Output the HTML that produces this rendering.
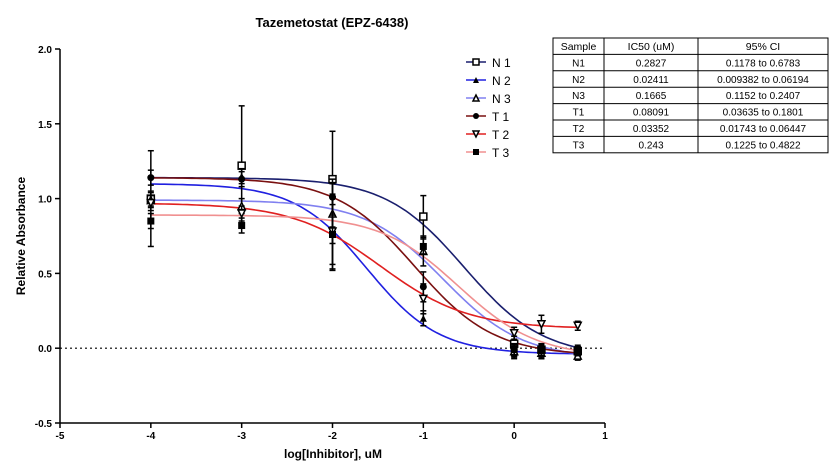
<!DOCTYPE html>
<html><head><meta charset="utf-8"><style>
body{margin:0;background:#fff;font-family:"Liberation Sans",Arial,sans-serif}
</style></head><body>
<svg id="chart" width="836" height="469" xmlns="http://www.w3.org/2000/svg" font-family="Liberation Sans, Arial, sans-serif">
<text x="332" y="27" text-anchor="middle" font-size="13" font-weight="bold">Tazemetostat (EPZ-6438)</text>
<text transform="translate(25,236) rotate(-90)" text-anchor="middle" font-size="12" font-weight="bold">Relative Absorbance</text>
<text x="333" y="458" text-anchor="middle" font-size="12" font-weight="bold">log[Inhibitor], uM</text>
<g id="axes"></g><g id="curves"></g><g id="points"></g><g id="legend"></g><g id="table"></g>
</svg>
<script>
const xTicks=[-5,-4,-3,-2,-1,0,1];
const yTicks=[-0.5,0.0,0.5,1.0,1.5,2.0];
const yTickLabels=["-0.5","0.0","0.5","1.0","1.5","2.0"];
const seriesNames=["N 1","N 2","N 3","T 1","T 2","T 3"];
const seriesColors=["#1a1f6e","#2020e0","#8080f0","#7a1010","#e02020","#f09090"];
const doses=[-4,-3,-2,-1,0,0.3,0.7];
const tops=[1.14,1.10,0.99,1.14,0.97,0.89];
const bottoms=[-0.06,-0.04,-0.07,-0.05,0.13,-0.06];
const logIC50s=[-0.549,-1.618,-0.779,-1.092,-1.475,-0.614];
const hills=[1.0,1.1,1.0,1.0,0.9,1.0];
const valsN1=[1.0,1.22,1.13,0.88,0.03,-0.01,-0.02];
const valsN2=[1.0,1.15,0.77,0.20,-0.03,-0.03,-0.03];
const valsN3=[0.99,0.95,0.90,0.65,-0.02,-0.03,-0.05];
const valsT1=[1.14,1.13,1.01,0.41,-0.01,-0.02,-0.02];
const valsT2=[0.97,0.90,0.78,0.33,0.10,0.16,0.15];
const valsT3=[0.85,0.82,0.76,0.68,-0.01,-0.01,-0.01];
const errN1=[0.32,0.40,0.32,0.14,0.05,0.04,0.03];
const errN2=[0.05,0.05,0.25,0.05,0.04,0.04,0.03];
const errN3=[0.05,0.05,0.20,0.10,0.04,0.04,0.03];
const errT1=[0.05,0.05,0.12,0.10,0.04,0.04,0.03];
const errT2=[0.05,0.05,0.25,0.10,0.04,0.06,0.03];
const errT3=[0.05,0.05,0.20,0.05,0.04,0.04,0.03];
const allVals=[valsN1,valsN2,valsN3,valsT1,valsT2,valsT3];
const allErr=[errN1,errN2,errN3,errT1,errT2,errT3];
const markers=["openSquare","triUp","openTriUp","circle","openTriDown","square"];
const tableHead=["Sample","IC50 (uM)","95% CI"];
const tableSamples=["N1","N2","N3","T1","T2","T3"];
const tableIC50=["0.2827","0.02411","0.1665","0.08091","0.03352","0.243"];
const tableCI=["0.1178 to 0.6783","0.009382 to 0.06194","0.1152 to 0.2407","0.03635 to 0.1801","0.01743 to 0.06447","0.1225 to 0.4822"];

const NS="http://www.w3.org/2000/svg";
const X0=60,X1=605,Y0=423,Y1=49;
const xs=v=>X0+(v+5)/6*(X1-X0);
const ys=v=>Y0-(v+0.5)/2.5*(Y0-Y1);
function mk(t,a,p){const e=document.createElementNS(NS,t);for(const k in a)e.setAttribute(k,a[k]);p.appendChild(e);return e;}
const axes=document.getElementById('axes');
let el=mk('line',{x1:X0,y1:Y1,x2:X0,y2:Y0,stroke:'#000','stroke-width':1.5},axes);


el=mk('line',{x1:X0,y1:Y0,x2:X1,y2:Y0,stroke:'#000','stroke-width':1.5},axes);


el=mk('line',{x1:X0,y1:ys(0),x2:X1,y2:ys(0),stroke:'#000','stroke-width':1.2,'stroke-dasharray':'2,3'},axes);


xTicks.forEach(t=>{
 mk('line',{x1:xs(t),y1:Y0,x2:xs(t),y2:Y0+5,stroke:'#000','stroke-width':1.5},axes);
 const tx=mk('text',{x:xs(t),y:Y0+16,'text-anchor':'middle','font-size':10,'font-weight':'bold'},axes);tx.textContent=t;
 
 
});
yTicks.forEach((t,i)=>{
 mk('line',{x1:X0-5,y1:ys(t),x2:X0,y2:ys(t),stroke:'#000','stroke-width':1.5},axes);
 const tx=mk('text',{x:X0-8,y:ys(t)+4,'text-anchor':'end','font-size':10,'font-weight':'bold'},axes);tx.textContent=yTickLabels[i];
 
 
});
function marker(type,cx,cy,p,s){
 s=s||3.5;let e;
 if(type==='openSquare')e=mk('rect',{x:cx-s,y:cy-s,width:2*s,height:2*s,fill:'#fff',stroke:'#000','stroke-width':1.5},p);
 else if(type==='square')e=mk('rect',{x:cx-s,y:cy-s,width:2*s,height:2*s,fill:'#000'},p);
 else if(type==='circle')e=mk('circle',{cx:cx,cy:cy,r:s,fill:'#000'},p);
 else if(type==='triUp')e=mk('polygon',{points:`${cx},${cy-s} ${cx-s},${cy+s} ${cx+s},${cy+s}`,fill:'#000'},p);
 else if(type==='openTriUp')e=mk('polygon',{points:`${cx},${cy-s} ${cx-s},${cy+s} ${cx+s},${cy+s}`,fill:'#fff',stroke:'#000','stroke-width':1.5},p);
 else e=mk('polygon',{points:`${cx},${cy+s} ${cx-s},${cy-s} ${cx+s},${cy-s}`,fill:'#fff',stroke:'#000','stroke-width':1.5},p);
 return e;
}
const curves=document.getElementById('curves'),pts=document.getElementById('points');
seriesNames.forEach((n,i)=>{
 let d='';
 for(let x=-4;x<=0.7001;x+=0.05){
  const y=bottoms[i]+(tops[i]-bottoms[i])/(1+Math.pow(10,(x-logIC50s[i])*hills[i]));
  d+=(d?'L':'M')+xs(x).toFixed(1)+','+ys(y).toFixed(1);
 }
 const c=mk('path',{d:d,fill:'none',stroke:seriesColors[i],'stroke-width':1.6},curves);
 
 
 doses.forEach((x,j)=>{
  const v=allVals[i][j],e=allErr[i][j],cx=xs(x);
  const g=mk('g',{},pts);
  
  
  mk('line',{x1:cx,y1:ys(v-e),x2:cx,y2:ys(v+e),stroke:'#000','stroke-width':1.5},g);
  mk('line',{x1:cx-3,y1:ys(v-e),x2:cx+3,y2:ys(v-e),stroke:'#000','stroke-width':1.5},g);
  mk('line',{x1:cx-3,y1:ys(v+e),x2:cx+3,y2:ys(v+e),stroke:'#000','stroke-width':1.5},g);
  marker(markers[i],cx,ys(v),g);
 });
});
const lg=document.getElementById('legend');
seriesNames.forEach((n,i)=>{
 const y=62+i*18;
 const g=mk('g',{},lg);
 
 
 mk('line',{x1:466,y1:y,x2:486,y2:y,stroke:seriesColors[i],'stroke-width':1.6},g);
 marker(markers[i],476,y,g,3);
 const t=mk('text',{x:492,y:y+5,'font-size':12},g);t.textContent=n;
});
const tb=document.getElementById('table');
const cols=[553,604,698,828],rowH=16.4,tblTop=38;
const tg=mk('g',{},tb);


mk('rect',{x:553,y:tblTop,width:275,height:rowH*7,fill:'#fff',stroke:'#000','stroke-width':1},tg);
for(let r=1;r<7;r++)mk('line',{x1:553,y1:tblTop+r*rowH,x2:828,y2:tblTop+r*rowH,stroke:'#000','stroke-width':1},tg);
[604,698].forEach(x=>mk('line',{x1:x,y1:tblTop,x2:x,y2:tblTop+rowH*7,stroke:'#000','stroke-width':1},tg));
const rows=[tableHead].concat(tableSamples.map((s,i)=>[s,tableIC50[i],tableCI[i]]));
rows.forEach((r,ri)=>r.forEach((c,ci)=>{
 const t=mk('text',{x:(cols[ci]+cols[ci+1])/2,y:tblTop+ri*rowH+12,'text-anchor':'middle','font-size':ri===0?10.5:10},tg);
 t.textContent=c;
 
 
}));
</script>
</body></html>
